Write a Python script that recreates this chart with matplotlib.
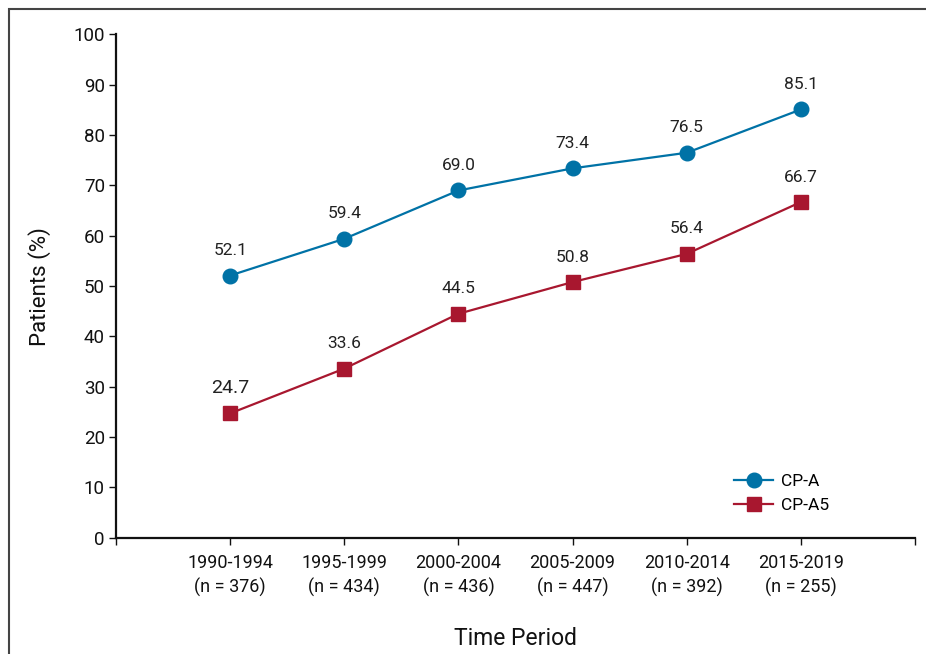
import matplotlib.pyplot as plt
from matplotlib.patches import Rectangle

periods = ['1990-1994', '1995-1999', '2000-2004', '2005-2009', '2010-2014', '2015-2019']
n_patients = [376, 434, 436, 447, 392, 255]
cp_a = [52.1, 59.4, 69.0, 73.4, 76.5, 85.1]
cp_a5 = [24.7, 33.6, 44.5, 50.8, 56.4, 66.7]

blue = '#0072a6'
red = '#a8172f'

plt.rcParams['font.family'] = ['Roboto', 'DejaVu Sans']

fig = plt.figure(figsize=(9.26, 6.54), dpi=100)
ax = fig.add_axes([116 / 926, 1 - 537.7 / 654, (915 - 116) / 926, (537.7 - 34.5) / 654])

x = list(range(1, len(periods) + 1))
ax.plot(x, cp_a, color=blue, lw=1.6, marker='o', ms=10.5, label='CP-A', clip_on=False)
ax.plot(x, cp_a5, color=red, lw=1.6, marker='s', ms=10, label='CP-A5', clip_on=False)

# value labels above markers
for i, v in enumerate(cp_a):
    ax.annotate(f'{v:.1f}', (x[i], v), xytext=(0, 18), textcoords='offset points',
                ha='center', va='center', fontsize=12.5, color='#222222')
for i, v in enumerate(cp_a5):
    fs = 14 if i == 0 else 12.5
    ax.annotate(f'{v:.1f}', (x[i], v), xytext=(0, 18), textcoords='offset points',
                ha='center', va='center', fontsize=fs, color='#222222')

ax.set_xlim(0, 7)
ax.set_ylim(0, 100)
ax.set_yticks(range(0, 101, 10))
ax.set_xticks(range(0, 8))
ax.set_xticklabels([''] + [f'{p}\n(n = {n})' for p, n in zip(periods, n_patients)] + [''],
                   linespacing=1.35)

for s in ['top', 'right']:
    ax.spines[s].set_visible(False)
for s in ['left', 'bottom']:
    ax.spines[s].set_linewidth(1.6)
    ax.spines[s].set_color('#111111')

ax.tick_params(axis='y', length=5, width=1, labelsize=13.5, pad=3, colors='#111111')
ax.tick_params(axis='x', length=5, width=1, labelsize=13, pad=7, colors='#111111')

ax.set_ylabel('Patients (%)', fontsize=16, labelpad=16, color='#111111')
ax.set_xlabel('Time Period', fontsize=16.5, labelpad=22, color='#111111')

ax.legend(loc='center left', bbox_to_anchor=(0.774, 0.088), frameon=False, fontsize=12.5,
          handlelength=2.2, labelspacing=0.5, handletextpad=0.5,
          borderpad=0, borderaxespad=0)

# outer frame around the figure
fig.patches.append(Rectangle((9 / 926, -0.1), 1.2, 1.1 - 9 / 654, transform=fig.transFigure,
                             fill=False, ec='#444444', lw=1.5, clip_on=False))

fig.savefig('out.png', dpi=100)
